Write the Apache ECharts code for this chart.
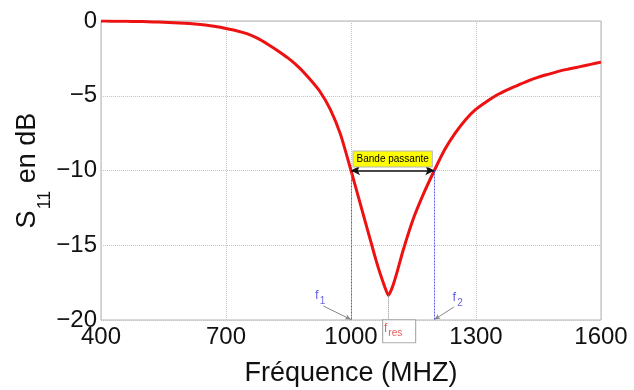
<!DOCTYPE html>
<html>
<head>
<meta charset="utf-8">
<script src="https://cdn.jsdelivr.net/npm/echarts@6/dist/echarts.min.js"></script>
<style>html,body{margin:0;padding:0;background:#fff;}#c{width:634px;height:390px;}</style>
</head>
<body>
<div id="c"></div>
<script>
// Frequency (MHz) and S11 (dB)
const freq = [400,425,450,475,500,525,550,575,600,625,650,675,700,725,750,775,800,825,850,875,900,925,950,975,1000,1025,1050,1060,1070,1080,1090,1100,1110,1125,1150,1175,1200,1225,1250,1275,1300,1325,1350,1375,1400,1425,1450,1475,1500,1525,1550,1575,1600];
const s11  = [0,-0.01,-0.02,-0.03,-0.04,-0.06,-0.08,-0.11,-0.15,-0.2,-0.27,-0.37,-0.5,-0.65,-0.85,-1.15,-1.55,-2.0,-2.5,-3.1,-3.85,-4.7,-5.9,-7.6,-10,-12.5,-15,-16.0,-16.9,-17.7,-18.35,-17.75,-16.85,-15.35,-13.2,-11.5,-10,-8.6,-7.5,-6.6,-5.9,-5.4,-4.95,-4.6,-4.3,-4.0,-3.75,-3.55,-3.35,-3.2,-3.05,-2.9,-2.75];
const xTicks = [400,700,1000,1300,1600];
const yTicks = [0,-5,-10,-15,-20];
const f1 = 1000, f2 = 1200, fres = 1090, level = -10, s11min = -18.35;
const bandLabel = 'Bande passante';
const f1LabelPos = [926,-18.33], f2LabelPos = [1256,-18.47];
const f1ArrowStart = [934,-19.07], f2ArrowStart = [1247,-19.13];
const fresBoxPos = [1115.5,-20.75];

const chart = echarts.init(document.getElementById('c'), null, {renderer:'canvas'});
const FONT = 'Liberation Sans, Arial, sans-serif';
const blue = '#5c5cf0';
const fblue = '#3b3bdc';
chart.setOption({
  animation:false,
  backgroundColor:'#fff',
  grid:{left:101,right:33,top:21,bottom:70,show:true,borderColor:'#b4b4b4',borderWidth:1,containLabel:false,outerBoundsMode:'none'},
  xAxis:{
    type:'value',min:xTicks[0],max:xTicks[xTicks.length-1],interval:300,
    name:'Fréquence (MHZ)',nameLocation:'middle',nameGap:40,nameMoveOverlap:false,
    nameTextStyle:{fontFamily:FONT,fontSize:27,color:'#111'},
    axisLine:{show:false},axisTick:{show:false},
    axisLabel:{fontFamily:FONT,fontSize:24,color:'#111',margin:5,formatter:v=>String(v)},
    splitLine:{show:true,lineStyle:{color:'#c4c4c4',type:'dotted',width:1}}
  },
  yAxis:{
    type:'value',min:yTicks[4],max:yTicks[0],interval:5,
    name:'{a|S}{b|11}{a| en dB}',nameLocation:'middle',nameRotate:90,nameGap:60,nameMoveOverlap:false,
    nameTextStyle:{fontFamily:FONT,color:'#111',
      rich:{a:{fontFamily:FONT,fontSize:27,lineHeight:27,verticalAlign:'top',color:'#111'},
            b:{fontFamily:FONT,fontSize:18,lineHeight:18,verticalAlign:'top',padding:[22,0,0,1],color:'#111'}}},
    axisLine:{show:false},axisTick:{show:false},
    axisLabel:{fontFamily:FONT,fontSize:24,color:'#111',margin:4,formatter:v=>String(v).replace('-','\u2212')},
    splitLine:{show:true,lineStyle:{color:'#c4c4c4',type:'dotted',width:1}}
  },
  series:[
    {
      type:'line',name:'bandEdges',data:[],silent:true,z:3,
      markLine:{
        silent:true,symbol:'none',animation:false,
        label:{show:false},
        lineStyle:{color:blue,type:[2,1],width:1},
        data:[
          [{coord:[f1,level]},{coord:[f1,-20]}],
          [{coord:[f2,level]},{coord:[f2,-20]}]
        ]
      }
    },
    {
      type:'line',name:'resLine',data:[],silent:true,
      markLine:{
        silent:true,symbol:'none',animation:false,
        label:{show:false},
        lineStyle:{color:'#8a8a8a',type:'dotted',width:1},
        data:[[{coord:[fres,s11min]},{coord:[fres,-20]}]]
      }
    },
    {
      type:'line',name:'S11',data:freq.map((f,i)=>[f,s11[i]]),
      smooth:0.2,showSymbol:false,symbol:'none',
      lineStyle:{color:'#ee1111',width:3},z:3
    },
    {
      type:'line',name:'band',data:[],silent:true,z:4,
      markLine:{
        silent:true,animation:false,symbol:['arrow','arrow'],symbolSize:[7,9],
        lineStyle:{color:'#111',type:'solid',width:1.5},
        label:{show:true,position:'middle',formatter:bandLabel,fontFamily:FONT,fontSize:10,color:'#000',
          backgroundColor:'#ffff00',borderColor:'#b5b5b5',borderWidth:1,padding:[3,3,2,3],distance:4},
        data:[[{coord:[f1,level]},{coord:[f2,level]}]]
      }
    },
    {
      type:'line',name:'arrows',data:[],silent:true,z:4,
      markLine:{
        silent:true,animation:false,symbol:['none','arrow'],symbolSize:[4,6],
        lineStyle:{color:'#888',type:'solid',width:1},
        label:{show:false},
        data:[
          [{coord:f1ArrowStart},{coord:[f1,-19.97]}],
          [{coord:f2ArrowStart},{coord:[f2,-19.97]}]
        ]
      }
    },
    {
      type:'scatter',name:'flabels',silent:true,symbolSize:0,z:5,
      data:[
        {value:f1LabelPos,label:{formatter:'{f|f}{s|1}'}},
        {value:f2LabelPos,label:{formatter:'{f|f}{s|2}'}}
      ],
      label:{show:true,position:'inside',
        rich:{f:{fontFamily:FONT,fontSize:13,lineHeight:13,verticalAlign:'top',color:fblue},
              s:{fontFamily:FONT,fontSize:10,lineHeight:10,verticalAlign:'top',padding:[8,0,0,1],color:fblue}}}
    },
    {
      type:'scatter',name:'fres',silent:true,clip:false,z:5,
      symbol:'rect',symbolSize:[33,23],
      itemStyle:{color:'#fff',borderColor:'#9a9a9a',borderWidth:1},
      data:[{value:fresBoxPos}],
      label:{show:true,position:'insideTopLeft',distance:0,offset:[2,3],formatter:'{f|f}{s|res}',
        rich:{f:{fontFamily:FONT,fontSize:12,lineHeight:12,verticalAlign:'top',color:'#e03030'},
              s:{fontFamily:FONT,fontSize:10,lineHeight:10,verticalAlign:'top',padding:[6,0,0,1],color:'#e03030'}}}
    }
  ]
});
</script>
</body>
</html>
